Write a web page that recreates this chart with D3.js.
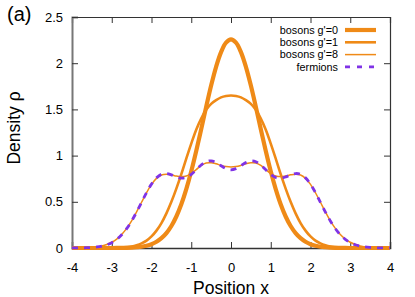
<!DOCTYPE html>
<html>
<head>
<meta charset="utf-8">
<script src="https://cdn.jsdelivr.net/npm/d3@7"></script>
<style>
  html, body { margin: 0; padding: 0; background: #fff; }
  svg { display: block; font-family: "Liberation Sans", Arial, sans-serif; }
</style>
</head>
<body>
<svg id="chart" width="415" height="297"></svg>
<script>
// ---- data ----
const positions = [-4,-3.875,-3.75,-3.625,-3.5,-3.375,-3.25,-3.125,-3,-2.875,-2.75,-2.625,-2.5,-2.375,-2.25,-2.125,
  -2,-1.875,-1.75,-1.625,-1.5,-1.375,-1.25,-1.125,-1,-0.875,-0.75,-0.625,-0.5,-0.375,-0.25,-0.125,
  0,
  0.125,0.25,0.375,0.5,0.625,0.75,0.875,1,1.125,1.25,1.375,1.5,1.625,1.75,1.875,
  2,2.125,2.25,2.375,2.5,2.625,2.75,2.875,3,3.125,3.25,3.375,3.5,3.625,3.75,3.875,4];

const bosonsG0 = [0,0,0,0,0,0,0,0,0,0.001,0.001,0.002,0.004,0.008,0.014,0.025,
  0.041,0.067,0.106,0.161,0.238,0.341,0.473,0.637,0.830,1.050,1.286,1.527,1.758,1.961,2.120,2.222,
  2.257,
  2.222,2.120,1.961,1.758,1.527,1.286,1.050,0.830,0.637,0.473,0.341,0.238,0.161,0.106,0.067,
  0.041,0.025,0.014,0.008,0.004,0.002,0.001,0.001,0,0,0,0,0,0,0,0,0];

const bosonsG1 = [0,0,0,0,0,0,0,0.001,0.002,0.003,0.005,0.010,0.017,0.030,0.050,0.080,
  0.125,0.188,0.270,0.375,0.500,0.643,0.800,0.968,1.130,1.280,1.400,1.495,1.560,1.600,1.630,1.645,
  1.650,
  1.645,1.630,1.600,1.560,1.495,1.400,1.280,1.130,0.968,0.800,0.643,0.500,0.375,0.270,0.188,
  0.125,0.080,0.050,0.030,0.017,0.010,0.005,0.003,0.002,0.001,0,0,0,0,0,0,0];

const bosonsG8 = [0.0003,0.0007,0.0016,0.003,0.007,0.012,0.022,0.038,0.062,0.097,0.146,0.212,0.294,0.391,0.495,0.598,
  0.688,0.753,0.790,0.799,0.792,0.779,0.773,0.780,0.806,0.849,0.893,0.920,0.923,0.911,0.894,0.881,
  0.876,
  0.881,0.894,0.911,0.923,0.920,0.893,0.849,0.806,0.780,0.773,0.779,0.792,0.799,0.790,0.753,
  0.688,0.598,0.495,0.391,0.294,0.212,0.146,0.097,0.062,0.038,0.022,0.012,0.007,0.003,0.0016,0.0007,0.0003];

const fermions = [0.0003,0.0007,0.0015,0.003,0.006,0.011,0.020,0.035,0.058,0.093,0.143,0.209,0.292,0.389,0.494,0.599,
  0.691,0.759,0.798,0.806,0.792,0.769,0.756,0.763,0.796,0.846,0.898,0.934,0.943,0.925,0.890,0.859,
  0.846,
  0.859,0.890,0.925,0.943,0.934,0.898,0.846,0.796,0.763,0.756,0.769,0.792,0.806,0.798,0.759,
  0.691,0.599,0.494,0.389,0.292,0.209,0.143,0.093,0.058,0.035,0.020,0.011,0.006,0.003,0.0015,0.0007,0.0003];

const xTicks = [-4,-3,-2,-1,0,1,2,3,4];
const yTicks = [0,0.5,1,1.5,2,2.5];
const seriesLabels = ["bosons g'=0","bosons g'=1","bosons g'=8","fermions"];

// ---- layout / styles ----
const orange = "#ef8a17";
const violet = "#8033e6";
const styles = [
  {values: bosonsG0, color: orange, width: 4.2, dash: null},
  {values: bosonsG1, color: orange, width: 2.6, dash: null},
  {values: bosonsG8, color: orange, width: 1.5, dash: null},
  {values: fermions, color: violet, width: 2.8, dash: "6,6"}
];

const svg = d3.select("#chart");
const L = 72, R = 390, T = 17, B = 248;

const x = d3.scaleLinear().domain([-4, 4]).range([L, R]);
const y = d3.scaleLinear().domain([0, 2.5]).range([B, T]);

const fmt = d => String(d);

// axes (inward ticks, mirrored)
const axB = svg.append("g").attr("transform", `translate(0,${B})`)
  .call(d3.axisBottom(x).tickValues(xTicks).tickFormat(fmt).tickSize(-6).tickPadding(14.5));
const axT = svg.append("g").attr("transform", `translate(0,${T})`)
  .call(d3.axisTop(x).tickValues(xTicks).tickFormat("").tickSize(-6));
const axL = svg.append("g").attr("transform", `translate(${L},0)`)
  .call(d3.axisLeft(y).tickValues(yTicks).tickFormat(fmt).tickSize(-6).tickPadding(9));
const axR = svg.append("g").attr("transform", `translate(${R},0)`)
  .call(d3.axisRight(y).tickValues(yTicks).tickFormat("").tickSize(-6));

[axB, axT, axL, axR].forEach(g => {
  g.select(".domain").attr("stroke", "#333").attr("stroke-width", 1.2);
  g.selectAll(".tick line").attr("stroke", "#333").attr("stroke-width", 1);
  g.selectAll(".tick text").attr("fill", "#000").style("font-size", "13px")
    .style("font-family", "'Liberation Sans', Arial, sans-serif");
});
axB.select(".domain").attr("stroke-width", 1.5);
axL.select(".domain").attr("stroke", "#777").attr("stroke-width", 2);

// curves
const line = d3.line()
  .x((d, i) => x(positions[i]))
  .y(d => y(d))
  .curve(d3.curveCatmullRom.alpha(0.5));

const plot = svg.append("g");
styles.forEach(s => {
  plot.append("path")
    .datum(s.values)
    .attr("d", line)
    .attr("fill", "none")
    .attr("stroke", s.color)
    .attr("stroke-width", s.width)
    .attr("stroke-linejoin", "round")
    .attr("stroke-dasharray", s.dash);
});

// legend
const legY = [30, 42.3, 54.6, 66.9];
const leg = svg.append("g");
seriesLabels.forEach((lab, i) => {
  leg.append("text")
    .attr("x", 338).attr("y", legY[i]).attr("dy", "0.35em")
    .attr("text-anchor", "end")
    .style("font-size", "10.8px")
    .text(lab);
  leg.append("line")
    .attr("x1", 345).attr("x2", 376)
    .attr("y1", legY[i]).attr("y2", legY[i])
    .attr("stroke", styles[i].color)
    .attr("stroke-width", styles[i].width)
    .attr("stroke-dasharray", styles[i].dash ? "5,7" : null);
});

// axis titles
svg.append("text")
  .attr("x", (L + R) / 2).attr("y", 294)
  .attr("text-anchor", "middle")
  .style("font-size", "17.5px")
  .text("Position x");

svg.append("text")
  .attr("transform", `translate(20,128) rotate(-90)`)
  .attr("text-anchor", "middle")
  .style("font-size", "17.5px")
  .text("Density ρ");

// panel label
svg.append("text")
  .attr("x", 7).attr("y", 21)
  .style("font-size", "20px")
  .text("(a)");
</script>
</body>
</html>
